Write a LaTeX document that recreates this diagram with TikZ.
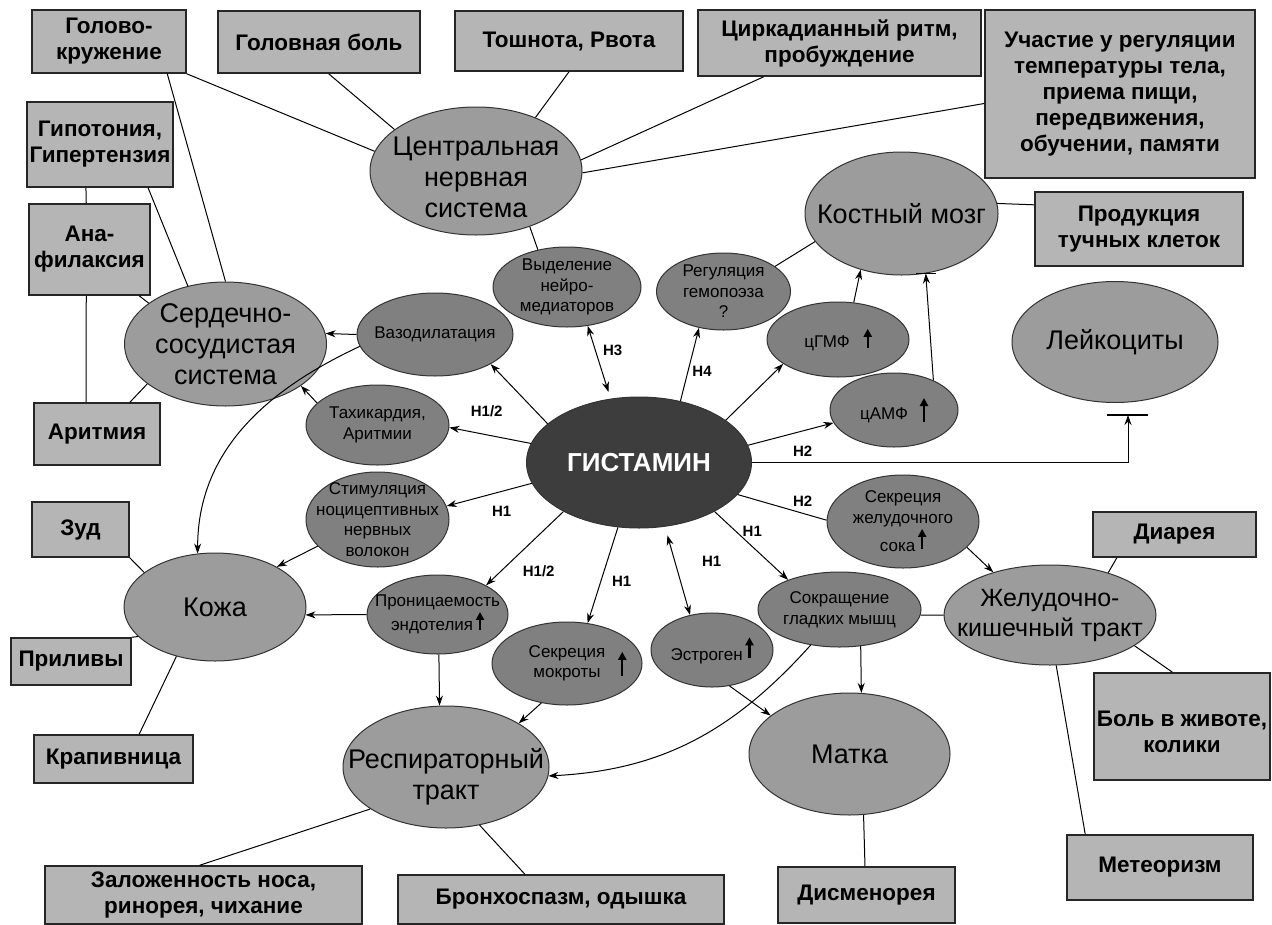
\documentclass[tikz,border=0pt]{standalone}
\usepackage{fontspec}
\setmainfont{Liberation Sans}
\usetikzlibrary{shapes.geometric,arrows.meta,calc}
\definecolor{boxgray}{gray}{0.71}
\definecolor{biggray}{gray}{0.61}
\definecolor{smallgray}{gray}{0.50}
\definecolor{histgray}{gray}{0.24}
\newcommand\myup[2]{\tikz[baseline=#2pt,x=1pt,y=1pt]{\draw[line width=2.2pt,-{Triangle[length=8pt,width=8pt]}] (0,0) -- (0,#1);}}
\newcommand\mylow[2]{\raisebox{-#1pt}[\height][\depth]{\begin{tabular}{@{}c@{}}#2\end{tabular}}}
\begin{document}
\begin{tikzpicture}[x=1pt,y=-1pt,
  box/.style={rectangle,draw=black!85,line width=1.6pt,fill=boxgray,inner sep=0pt,align=center,font=\bfseries\fontsize{22.5}{26}\selectfont},
  big/.style={ellipse,draw=black!80,line width=1pt,fill=biggray,inner xsep=-110pt,inner ysep=-60pt,align=center,font=\fontsize{27}{31}\selectfont},
  small/.style={ellipse,draw=black!80,line width=1pt,fill=smallgray,inner xsep=-75pt,inner ysep=-50pt,align=center,font=\fontsize{17}{20.5}\selectfont},
  conn/.style={line width=1pt},
  arr/.style={conn,-{Stealth[length=10pt,width=7pt]}},
  darr/.style={conn,{Stealth[length=10pt,width=7pt]}-{Stealth[length=10pt,width=7pt]}},
  lbl/.style={inner sep=0pt,font=\bfseries\fontsize{15}{18}\selectfont}]
\path[use as bounding box,fill=white] (0,0) rectangle (1272,924);

% boxes
\node[box,minimum width=154pt,minimum height=63pt] (b1) at (109,41.5) {Голово-\\кружение};
\node[box,minimum width=202pt,minimum height=62pt] (b2) at (319,42) {Головная боль};
\node[box,minimum width=228pt,minimum height=60pt] (b3) at (569,41) {Тошнота, Рвота};
\node[box,minimum width=283pt,minimum height=66pt] (b4) at (839.5,43) {Циркадианный ритм,\\пробуждение};
\node[box,minimum width=270pt,minimum height=168pt] (b5) at (1120,94) {Участие у регуляции\\температуры тела,\\приема пищи,\\передвижения,\\обучении, памяти};
\node[box,minimum width=208pt,minimum height=74pt] (b6) at (1139,229) {Продукция\\тучных клеток};
\node[box,minimum width=146pt,minimum height=85pt] (b7) at (100,144.5) {Гипотония,\\Гипертензия};
\node[box,minimum width=121pt,minimum height=91pt] (b8) at (89.5,249.5) {Ана-\\филаксия};
\node[box,minimum width=126pt,minimum height=62pt] (b9) at (97,434) {Аритмия};
\node[box,minimum width=97pt,minimum height=55pt] (b10) at (80.5,529.5) {Зуд};
\node[box,minimum width=120pt,minimum height=47pt] (b11) at (71,661.5) {Приливы};
\node[box,minimum width=159pt,minimum height=48pt] (b12) at (113.5,759) {Крапивница};
\node[box,minimum width=317pt,minimum height=58pt] (b13) at (203.5,895) {Заложенность носа,\\ринорея, чихание};
\node[box,minimum width=326pt,minimum height=49pt] (b14) at (561,899.5) {Бронхоспазм, одышка};
\node[box,minimum width=177pt,minimum height=56pt] (b15) at (866.5,895) {Дисменорея};
\node[box,minimum width=186pt,minimum height=65pt] (b16) at (1160,867.5) {Метеоризм};
\node[box,minimum width=176pt,minimum height=107pt] (b17) at (1182,726.5) {\mylow{8}{Боль в животе,\\колики}};
\node[box,minimum width=163pt,minimum height=45pt] (b18) at (1174.5,534.5) {Диарея};

% big ellipses
\node[big,minimum width=212pt,minimum height=128pt] (cns) at (476,171) {\mylow{9}{Центральная\\нервная\\система}};
\node[big,minimum width=193pt,minimum height=123pt] (bm) at (901.5,213.5) {Костный мозг};
\node[big,minimum width=202pt,minimum height=124pt] (cv) at (225.5,344) {Сердечно-\\сосудистая\\система};
\node[big,minimum width=206pt,minimum height=121pt] (leuk) at (1115,342) {Лейкоциты};
\node[big,minimum width=182pt,minimum height=108pt] (skin) at (215,607) {Кожа};
\node[big,minimum width=206pt,minimum height=122pt] (resp) at (446,767) {\mylow{11}{Респираторный\\тракт}};
\node[big,minimum width=201pt,minimum height=122pt] (uterus) at (849.5,754) {Матка};
\node[big,minimum width=212pt,minimum height=100pt,font=\fontsize{25}{30}\selectfont] (gi) at (1050,615) {Желудочно-\\кишечный тракт};
\node[ellipse,draw=black!80,line width=1pt,fill=histgray,text=white,inner xsep=-90pt,inner ysep=-50pt,minimum width=225pt,minimum height=131pt,font=\bfseries\fontsize{26}{30}\selectfont] (hist) at (639,462.5) {ГИСТАМИН};

% small ellipses
\node[small,minimum width=148pt,minimum height=80pt] (neuro) at (567,287) {Выделение\\нейро-\\медиаторов};
\node[small,minimum width=134pt,minimum height=77pt] (hemo) at (723.5,291.5) {Регуляция\\гемопоэза\\?};
\node[small,minimum width=156pt,minimum height=83pt] (vaso) at (435,334.5) {Вазодилатация};
\node[small,minimum width=143pt,minimum height=80pt] (tachy) at (377.5,425) {Тахикардия,\\Аритмии};
\node[small,minimum width=143pt,minimum height=95pt] (stim) at (377.5,519.5) {Стимуляция\\ноцицептивных\\нервных\\волокон};
\node[small,minimum width=141pt,minimum height=79pt] (perm) at (437.5,614.5) {Проницаемость\\эндотелия\,\myup{18}{-1}};
\node[small,minimum width=150pt,minimum height=83pt] (sput) at (567,663.5) {\begin{tabular}{@{}c@{}}Секреция\\мокроты\end{tabular}\rlap{\hspace{13pt}\myup{24}{8}}};
\node[small,minimum width=122pt,minimum height=74pt] (estr) at (712,650) {Эстроген\,\myup{21}{-2}};
\node[small,minimum width=163pt,minimum height=75pt] (smooth) at (839.5,609.5) {Сокращение\\гладких мышц};
\node[small,minimum width=152pt,minimum height=93pt] (gastric) at (903,521.5) {Секреция\\желудочного\\сока\,\myup{20}{-3}};
\node[small,minimum width=142pt,minimum height=75pt] (cgmp) at (838,339.5) {цГМФ\hspace{14pt}\myup{19}{0}};
\node[small,minimum width=128pt,minimum height=74pt] (camp) at (894,410) {цАМФ\hspace{12pt}\myup{24}{3}};

% plain lines
\draw[conn] (b1.south east) -- (cns.169);
\draw[conn] (b2.287) -- (cns.153);
\draw[conn] (b3.south) -- (cns.42);
\draw[conn] (b4.204) -- (cns.6);
\draw[conn] (b5.184) -- (cns.359);
\draw[conn] (cns.314) -- (neuro.128);
\draw[conn] (b1.331) -- (cv.90);
\draw[conn] (b7.318) -- (cv.123);
\draw[conn] (b8.317) -- (cv.152);
\draw[conn] (b7.252) -- (b8.94);
\draw[conn] (b8.266) -- (b9.109);
\draw[conn] (b9.44) -- (cv.207);
\draw[conn] (b10.south east) -- (skin.154);
\draw[conn] (b11.north east) -- (skin.201);
\draw[conn] (b12.44) -- (skin.232);
\draw[conn] (resp.209) -- (b13.97);
\draw[conn] (resp.300) -- (b14.145);
\draw[conn] (uterus.283) -- (b15.93);
\draw[conn] (gi.277) -- (b16.156);
\draw[conn] (gi.340) -- (b17.100);
\draw[conn] (gi.36) -- (b18.202);
\draw[conn] (bm.6) -- (b6.167);
\draw[conn] (bm.198) -- (hemo.26);
\draw[conn] (smooth.356) -- (gi.180);
\draw[conn] (hist.342) -- (gastric.179);

% arrows
\draw[arr] (vaso.180) -- (cv.6);
\draw[arr] (vaso.189) to[out=205,in=90] (skin.108);
\draw[arr] (tachy.160) -- (cv.331);
\draw[arr] (hist.157) -- (vaso.332);
\draw[arr] (hist.170) -- (tachy.358);
\draw[arr] (hist.191) -- (stim.11);
\draw[arr] (stim.204) -- (skin.33);
\draw[arr] (hist.213) -- (perm.31);
\draw[arr] (perm.180) -- (skin.355);
\draw[arr] (perm.272) -- (resp.96);
\draw[arr] (hist.252) -- (sput.63);
\draw[arr] (sput.237) -- (resp.31);
\draw[darr,shorten <=9pt] (hist.292) -- (estr.122);
\draw[arr] (estr.296) -- (uterus.154);
\draw[arr] (hist.327) -- (smooth.150);
\draw[arr] (smooth.300) -- (uterus.79);
\draw[arr] (smooth.231) to[out=228,in=3] (resp.355);
\draw[arr] (gastric.338) -- (gi.143);
\draw[arr] (hist.26) -- (cgmp.204);
\draw[arr] (hist.9) -- (camp.192);
\coordinate (tb) at (1128,415);
\draw[arr] (hist.east) -| (tb);
\draw[line width=1.4pt] ([xshift=-21pt]tb) -- ([xshift=20pt]tb);
\draw[arr] (hist.56) -- (hemo.236);
\draw[darr,shorten <=7pt] (hist.114) -- (neuro.298);
\draw[arr] (cgmp.67) -- (bm.234);
\draw[arr] (camp.37) -- (bm.292);
\draw[line width=1.4pt] ([xshift=-10pt]bm.292) -- ([xshift=10pt]bm.292);

% receptor labels
\node[lbl] (l1) at (612.7,350.7) {H3};
\node[lbl] (l2) at (702,371.7) {H4};
\node[lbl] (l3) at (486.7,411.7) {H1/2};
\node[lbl] (l4) at (501.7,511.7) {H1};
\node[lbl] (l5) at (802.7,451.7) {H2};
\node[lbl] (l6) at (802.7,501.7) {H2};
\node[lbl] (l7) at (538.7,571.7) {H1/2};
\node[lbl] (l8) at (621.7,581) {H1};
\node[lbl] (l9) at (711.7,561.7) {H1};
\node[lbl] (l10) at (752.3,531) {H1};
\end{tikzpicture}
\end{document}
